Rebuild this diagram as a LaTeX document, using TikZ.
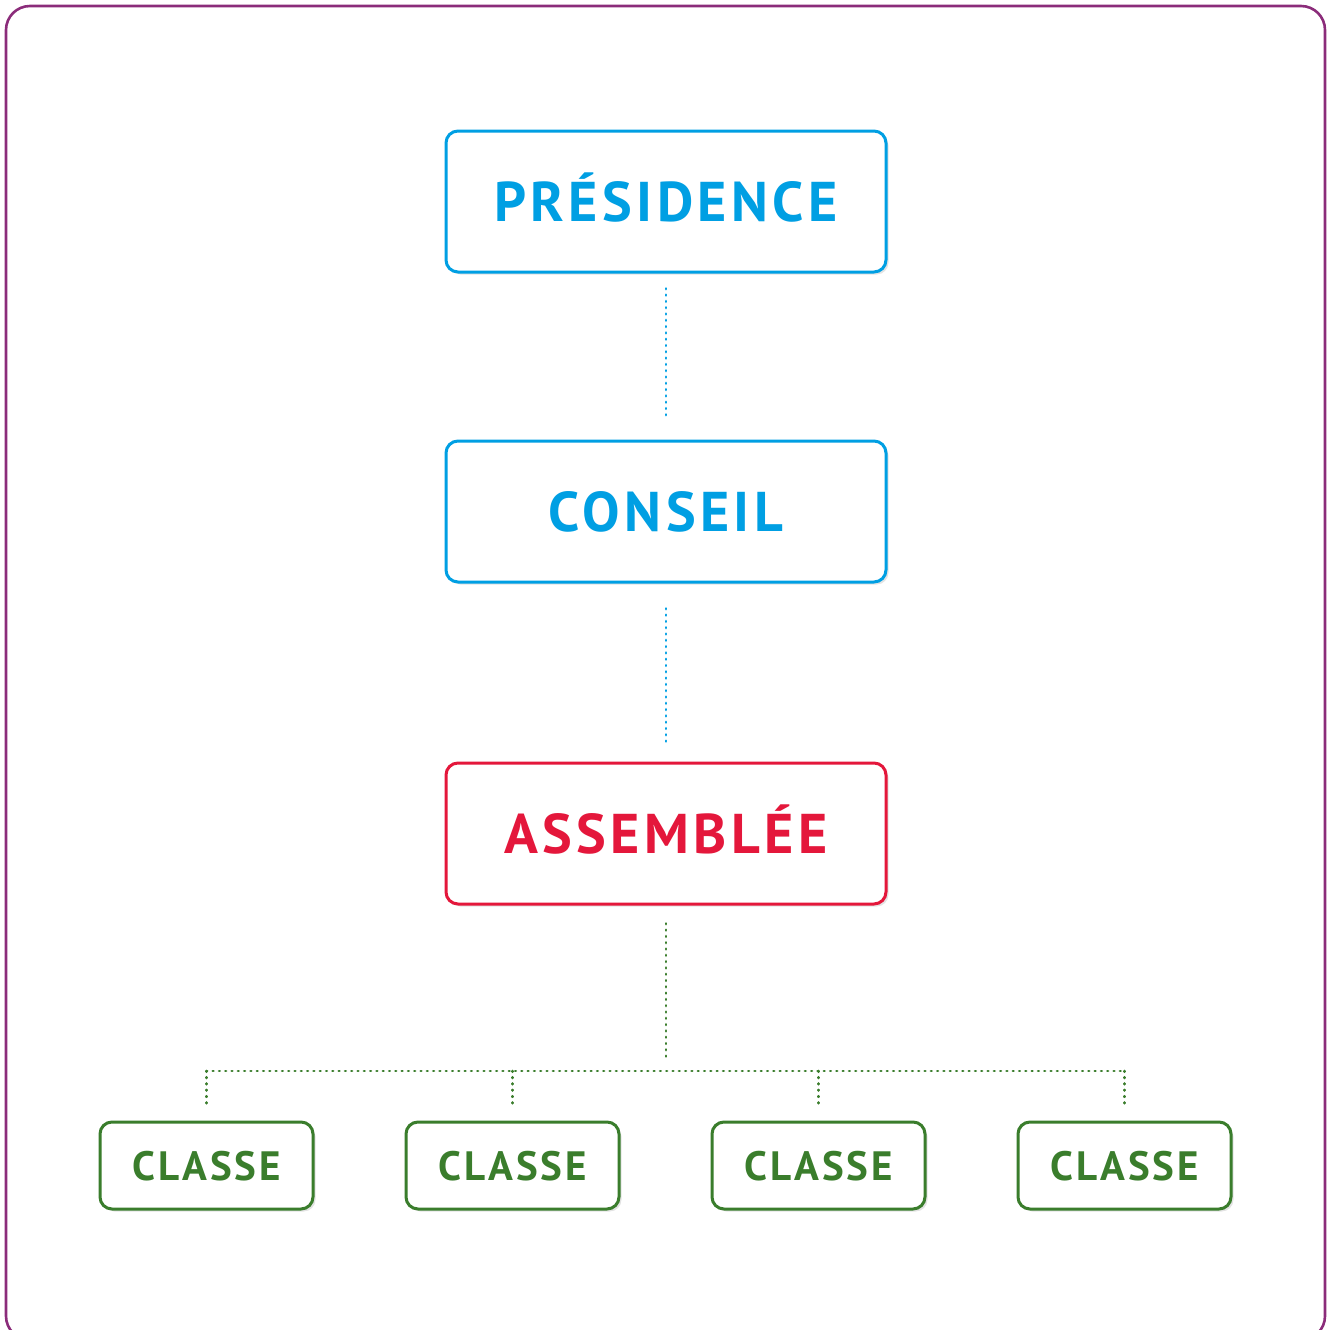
\documentclass[tikz,border=0pt]{standalone}
\usepackage{fontspec}
\setmainfont{PT Sans}
\usetikzlibrary{shadows}
\definecolor{frame}{HTML}{8B2C7A}
\definecolor{cblue}{HTML}{009FE3}
\definecolor{cred}{HTML}{E4173B}
\definecolor{cgreen}{HTML}{3A7D2C}
\tikzset{
  bigbox/.style={draw=#1, text=#1, line width=3pt, rounded corners=12pt, fill=white,
    minimum width=440pt, minimum height=141pt, inner sep=0pt, text height=39pt, text depth=0pt,
    font=\fontsize{56}{56}\selectfont\bfseries\addfontfeatures{LetterSpace=8},
    drop shadow={opacity=0.22, shadow xshift=2.5pt, shadow yshift=-2.5pt}},
  smallbox/.style={draw=cgreen, text=cgreen, line width=3pt, rounded corners=12pt, fill=white,
    minimum width=213pt, minimum height=87pt, inner sep=0pt, text height=29pt, text depth=0pt,
    font=\fontsize{41}{41}\selectfont\bfseries\addfontfeatures{LetterSpace=7},
    drop shadow={opacity=0.22, shadow xshift=2.5pt, shadow yshift=-2.5pt}},
  dots/.style={draw=#1, line width=2.8pt, line cap=round, dash pattern=on 0.6pt off 5.7pt}
}
\begin{document}
\begin{tikzpicture}[x=1pt,y=-1pt]
\useasboundingbox (0,0) rectangle (1330,1330);
\draw[frame, line width=2.6pt, rounded corners=24pt] (6,6) rectangle (1325,1340);
\node[bigbox=cblue] (pres) at (666,201.5) {PRÉSIDENCE};
\node[bigbox=cblue] (cons) at (666,511.5) {CONSEIL};
\node[bigbox=cred] (ass) at (666,833.5) {ASSEMBLÉE};
\foreach \i/\x in {1/206.5,2/512.5,3/818.5,4/1124.5}{
  \node[smallbox] (c\i) at (\x,1165.5) {CLASSE};
}
\coordinate (j) at (666,1071);
\draw[dots=cblue] ([yshift=-15pt]pres.south) -- ([yshift=19pt]cons.north);
\draw[dots=cblue] ([yshift=-25pt]cons.south) -- ([yshift=19pt]ass.north);
\draw[dots=cgreen] ([yshift=-18pt]ass.south) -- ([yshift=13pt]j);
\draw[dots=cgreen] (j -| c1) -- (j -| c4);
\foreach \i in {1,...,4}{
  \draw[dots=cgreen] (j -| c\i) -- ([yshift=16pt]c\i.north);
}
\end{tikzpicture}
\end{document}
